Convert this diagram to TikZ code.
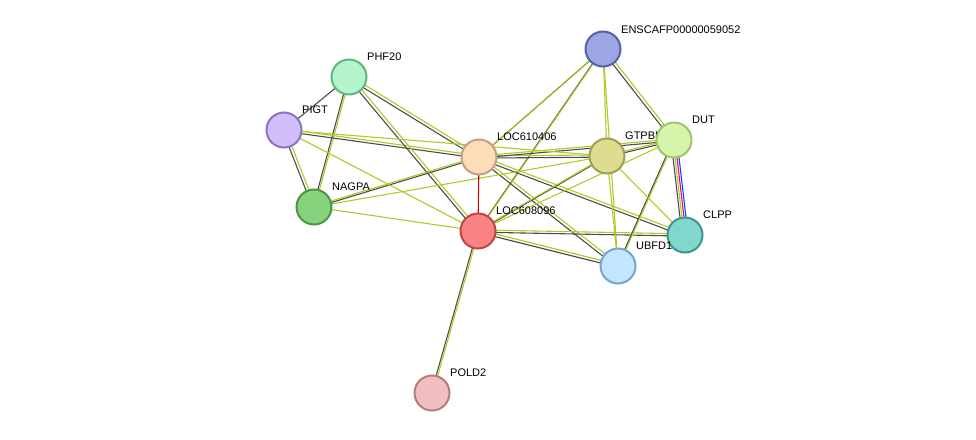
\documentclass[tikz,border=0pt]{standalone}
\usepackage{fontspec}
\setmainfont{Liberation Sans}
\definecolor{lg}{RGB}{170,205,40}
\begin{document}
\begin{tikzpicture}[x=1pt,y=-1pt,
  nd/.style={circle,minimum size=35pt,inner sep=0pt,line width=2pt},
  lb/.style={font=\fontsize{11}{12}\selectfont,anchor=south west,inner sep=0pt},
  dk/.style={draw=black!70,line width=1.1pt,transform canvas={shift={(-1.1pt,-1.1pt)}}},
  gr/.style={draw=lg,line width=1.1pt,transform canvas={shift={(1.1pt,1.1pt)}}},
  gro/.style={draw=lg,line width=1.1pt}]
\useasboundingbox (0,0) rectangle (976,439);
\coordinate (E) at (603,49);
\coordinate (PH) at (349,77);
\coordinate (PI) at (284,130);
\coordinate (L6) at (479,157);
\coordinate (G) at (607,156);
\coordinate (D) at (674,140);
\coordinate (N) at (314,207);
\coordinate (L8) at (478,231);
\coordinate (C) at (685,235);
\coordinate (U) at (618,266);
\coordinate (P) at (432,393);
% dark+green edges
\foreach \a/\b in {E/L6,E/D,E/L8,PH/N,PI/N,PI/L6,PH/L6,PH/L8,N/L6,L6/G,L6/D,L6/C,L6/U,L8/G,L8/C,L8/U,L8/P,G/D,D/U}{
  \draw[dk] (\a) -- (\b); \draw[gr] (\a) -- (\b);}
\draw[draw=black!70,line width=1.1pt] (PH) -- (PI);
% green-only edges
\foreach \a/\b in {E/G,E/U,PI/L8,N/L8,N/G,PI/G,L8/D,G/C,G/U}{
  \draw[gro] (\a) -- (\b);}
\draw[red!85!black,line width=1.1pt] (L6) -- (L8);
% DUT-CLPP multicolour
\draw[black!70,line width=1.1pt,transform canvas={shift={(-3pt,0)}}] (D) -- (C);
\draw[lg,line width=1.1pt,transform canvas={shift={(-1pt,0)}}] (D) -- (C);
\draw[magenta,line width=1.1pt,transform canvas={shift={(1pt,0)}}] (D) -- (C);
\draw[blue!70!cyan,line width=1.1pt,transform canvas={shift={(3pt,0)}}] (D) -- (C);
% nodes
\definecolor{c1}{RGB}{155,166,226}\definecolor{d1}{RGB}{85,96,170}
\definecolor{c2}{RGB}{180,245,205}\definecolor{d2}{RGB}{100,180,130}
\definecolor{c3}{RGB}{210,190,250}\definecolor{d3}{RGB}{140,115,190}
\definecolor{c4}{RGB}{255,220,185}\definecolor{d4}{RGB}{195,160,130}
\definecolor{c5}{RGB}{222,220,145}\definecolor{d5}{RGB}{160,158,85}
\definecolor{c6}{RGB}{215,245,170}\definecolor{d6}{RGB}{160,195,110}
\definecolor{c7}{RGB}{135,210,125}\definecolor{d7}{RGB}{75,150,70}
\definecolor{c8}{RGB}{250,130,130}\definecolor{d8}{RGB}{190,70,70}
\definecolor{c9}{RGB}{195,230,255}\definecolor{d9}{RGB}{120,165,200}
\definecolor{c10}{RGB}{130,215,205}\definecolor{d10}{RGB}{60,150,140}
\definecolor{c11}{RGB}{240,190,190}\definecolor{d11}{RGB}{180,125,125}
\node[lb] at (621,34) {ENSCAFP00000059052};
\node[nd,fill=c1,draw=d1] (nE) at (E) {};
\node[nd,fill=c2,draw=d2] (nPH) at (PH) {};
\node[lb] at (367,61) {PHF20};
\node[nd,fill=c3,draw=d3] (nPI) at (PI) {};
\node[lb] at (302,114) {PIGT};
\node[nd,fill=c4,draw=d4] (nL6) at (L6) {};
\node[lb] at (497,141) {LOC610406};
\node[nd,fill=c5,draw=d5] (nG) at (G) {};
\node[lb] at (625,140) {GTPBP4};
\node[nd,fill=c6,draw=d6] (nD) at (D) {};
\node[lb] at (692,124) {DUT};
\node[nd,fill=c7,draw=d7] (nN) at (N) {};
\node[lb] at (332,191) {NAGPA};
\node[nd,fill=c8,draw=d8] (nL8) at (L8) {};
\node[lb] at (496,215) {LOC608096};
\node[nd,fill=c9,draw=d9] (nU) at (U) {};
\node[nd,fill=c10,draw=d10] (nC) at (C) {};
\node[lb] at (703,219) {CLPP};
\node[lb] at (636,250) {UBFD1};
\node[nd,fill=c11,draw=d11] (nP) at (P) {};
\node[lb] at (450,377) {POLD2};
\end{tikzpicture}
\end{document}
